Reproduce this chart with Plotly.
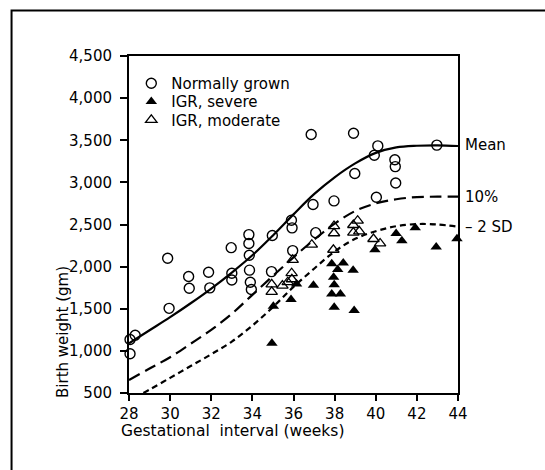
import plotly.graph_objects as go

# ---- data ----
normal_x = [28.05, 28.3, 28.05, 29.88, 29.95, 30.9, 30.93, 31.87, 31.93, 32.97, 33.0, 33.0,
            33.83, 33.83, 33.85, 33.86, 33.9, 33.95, 34.97, 34.93, 35.9, 35.93, 35.96,
            36.86, 36.95, 37.08, 37.97, 38.92, 38.98, 39.93, 40.1, 40.03, 40.93, 40.95, 40.97, 42.97]
normal_y = [1135, 1185, 965, 2100, 1505, 1882, 1744, 1934, 1748, 2225, 1922, 1842,
            2380, 2275, 2135, 1958, 1815, 1728, 2370, 1941, 2550, 2460, 2190,
            3568, 2738, 2403, 2780, 3583, 3105, 3322, 3433, 2824, 3268, 3187, 2992, 3442]

severe_x = [34.95, 35.02, 35.88, 36.15, 36.97, 37.86, 38.42, 38.15, 38.9, 37.95, 37.98, 37.86,
            38.28, 37.98, 38.95, 39.96, 40.99, 41.27, 41.92, 42.94, 43.95]
severe_y = [1090, 1530, 1610, 1795, 1778, 2035, 2044, 1967, 1957, 1875, 1784, 1675,
            1675, 1519, 1480, 2200, 2392, 2308, 2460, 2234, 2330]

moderate_x = [34.94, 34.94, 35.46, 35.72, 35.91, 35.92, 35.96, 36.89, 37.97, 37.97, 37.94,
              38.91, 38.91, 39.12, 39.2, 39.89, 40.21]
moderate_y = [1790, 1700, 1775, 1815, 1922, 1850, 2080, 2260, 2480, 2396, 2200,
              2494, 2403, 2545, 2418, 2328, 2275]

curve_weeks = [28, 29, 30, 31, 32, 33, 34, 35, 36, 37, 38, 39, 40, 41, 42, 43, 44]
mean_curve = [1090, 1245, 1400, 1565, 1740, 1930, 2135, 2370, 2620, 2860, 3060, 3225, 3350, 3415, 3435, 3440, 3432]
p10_curve = [655, 790, 925, 1085, 1250, 1440, 1665, 1890, 2110, 2320, 2510, 2660, 2750, 2800, 2825, 2830, 2830]
sd2_weeks = [28.7, 29, 30, 31, 32, 33, 34, 35, 36, 37, 38, 39, 40, 41, 42, 43, 44]
sd2_curve = [500, 540, 680, 820, 960, 1110, 1300, 1520, 1760, 1975, 2180, 2330, 2420, 2480, 2505, 2500, 2474]

curve_labels = ["Mean", "10%", "\u2013 2 SD"]
curve_label_y = [3442, 2829, 2467]

legend_names = ["Normally grown", "IGR, severe", "IGR, moderate"]

FONT = "DejaVu Sans"

fig = go.Figure()

fig.add_trace(go.Scatter(x=curve_weeks, y=mean_curve, mode="lines", line=dict(color="black", width=2.2, shape="spline"),
                         showlegend=False, hoverinfo="skip"))
fig.add_trace(go.Scatter(x=curve_weeks, y=p10_curve, mode="lines",
                         line=dict(color="black", width=2.2, shape="spline", dash="12px,6px"),
                         showlegend=False, hoverinfo="skip"))
fig.add_trace(go.Scatter(x=sd2_weeks, y=sd2_curve, mode="lines",
                         line=dict(color="black", width=2.2, shape="spline", dash="6px,4px"),
                         showlegend=False, hoverinfo="skip"))

fig.add_trace(go.Scatter(x=normal_x, y=normal_y, mode="markers", name=legend_names[0], legend="legend",
                         cliponaxis=False,
                         marker=dict(symbol="circle-open", size=10, color="black", line=dict(width=1.4))))
fig.add_trace(go.Scatter(x=severe_x, y=severe_y, mode="markers", name=legend_names[1], legend="legend2",
                         cliponaxis=False,
                         marker=dict(symbol="triangle-up", size=10, color="black", line=dict(width=0))))
fig.add_trace(go.Scatter(x=moderate_x, y=moderate_y, mode="markers", name=legend_names[2], legend="legend3",
                         cliponaxis=False,
                         marker=dict(symbol="triangle-up-open", size=10, color="black", line=dict(width=1.3))))

for t, yv in zip(curve_labels, curve_label_y):
    fig.add_annotation(x=44, y=yv, xref="x", yref="y", text=t, showarrow=False,
                       xanchor="left", yanchor="middle", xshift=5,
                       font=dict(family=FONT, size=15, color="black"))

# axis titles as annotations (placed like the original)
fig.add_annotation(x=-0.03, y=-0.112, xref="paper", yref="paper", text="Gestational\u00a0 interval (weeks)",
                   showarrow=False, xanchor="left", yanchor="middle",
                   font=dict(family=FONT, size=15.5, color="black"))
fig.add_annotation(x=-0.2, y=-0.02, xref="paper", yref="paper", text="Birth weight (gm)",
                   showarrow=False, xanchor="center", yanchor="bottom", textangle=-90,
                   font=dict(family=FONT, size=15, color="black"))

# outer frame
fig.add_shape(type="rect", xref="paper", yref="paper", x0=-0.357, y0=-0.3, x1=1.4, y1=1.135,
              line=dict(color="black", width=2), fillcolor="rgba(0,0,0,0)", layer="below")

leg_common = dict(xanchor="left", yanchor="middle", bgcolor="rgba(0,0,0,0)",
                  font=dict(family=FONT, size=15, color="black"), itemwidth=30)
leg_x = 0.007
leg_rows = [0.9185, 0.864, 0.810]

fig.update_layout(
    width=545, height=470,
    margin=dict(l=129, r=87, t=56, b=77),
    paper_bgcolor="white", plot_bgcolor="white",
    font=dict(family=FONT, size=15, color="black"),
    legend=dict(x=leg_x, y=leg_rows[0], **leg_common),
    legend2=dict(x=leg_x, y=leg_rows[1], **leg_common),
    legend3=dict(x=leg_x, y=leg_rows[2], **leg_common),
)
fig.update_xaxes(range=[28, 44], tickmode="array", tickvals=list(range(28, 45, 2)),
                 showgrid=False, zeroline=False, showline=True, mirror=True, linecolor="black", linewidth=2,
                 ticks="outside", ticklen=6, tickwidth=1.5, tickcolor="black",
                 tickfont=dict(family=FONT, size=15, color="black"))
fig.update_yaxes(range=[500, 4500], tickmode="array", tickvals=list(range(500, 4501, 500)), tickformat=",",
                 showgrid=False, zeroline=False, showline=True, mirror=True, linecolor="black", linewidth=2,
                 ticks="outside", ticklen=7, tickwidth=1.5, tickcolor="black", ticklabelstandoff=5,
                 tickfont=dict(family=FONT, size=15, color="black"))

fig.write_html("out.html")
